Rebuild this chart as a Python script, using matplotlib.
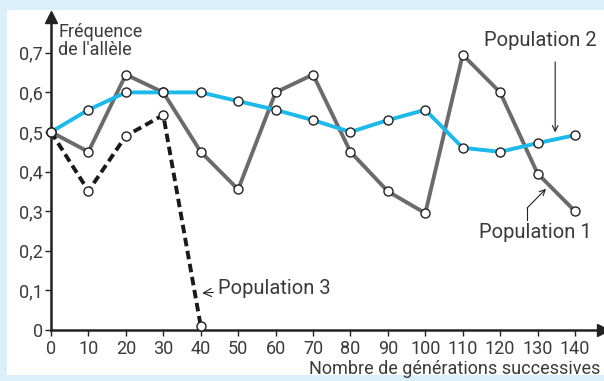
import matplotlib.pyplot as plt
from matplotlib.patches import Rectangle

plt.rcParams['font.family'] = ['Roboto', 'DejaVu Sans']

# data
gen = [0, 10, 20, 30, 40, 50, 60, 70, 80, 90, 100, 110, 120, 130, 140]
pop1 = [0.50, 0.45, 0.645, 0.60, 0.45, 0.355, 0.60, 0.645, 0.45, 0.35, 0.295, 0.695, 0.60, 0.395, 0.30]
pop2 = [0.50, 0.556, 0.60, 0.60, 0.60, 0.578, 0.556, 0.53, 0.50, 0.53, 0.556, 0.46, 0.45, 0.472, 0.492]
gen3 = [0, 10, 20, 30, 40]
pop3 = [0.50, 0.351, 0.49, 0.543, 0.01]
yticks = [0, 0.1, 0.2, 0.3, 0.4, 0.5, 0.6, 0.7]
ylabels = ['0', '0,1', '0,2', '0,3', '0,4', '0,5', '0,6', '0,7']

W, H = 604, 381
fig = plt.figure(figsize=(W / 100, H / 100), dpi=100)
fig.patch.set_facecolor('#dbeffa')
fig.add_artist(Rectangle((7 / W, 6 / H), (W - 7) / W, (375 - 10) / H,
                         transform=fig.transFigure, facecolor='white', edgecolor='none', zorder=0))

ax = fig.add_axes([51 / W, (H - 330) / H, (603 - 51) / W, (330 - 17) / H])
ax.set_facecolor('none')
ax.set_xlim(0, (603 - 51) / 3.743)
ax.set_ylim(0, (330 - 17) / 396)

txt = '#3a3a3a'
mk = dict(marker='o', markersize=6.5, markerfacecolor='white', markeredgecolor='#222222',
          markeredgewidth=1.0, clip_on=False)
ax.plot(gen, pop1, color='#6b6b6b', lw=2.8, zorder=3, **mk)
ax.plot(gen, pop2, color='#1cb9ea', lw=2.8, zorder=4, **mk)
ax.plot(gen3, pop3, color='#1a1a1a', lw=2.8, ls=(0, (2.2, 1.2)), zorder=5, **mk)

for s in ['top', 'right']:
    ax.spines[s].set_visible(False)
for s in ['left', 'bottom']:
    ax.spines[s].set_linewidth(1.8)
    ax.spines[s].set_color('#222222')
ax.plot(1, 0, '>', color='#222222', markersize=8, transform=ax.transAxes, clip_on=False)
ax.plot(0, 1, '^', color='#222222', markersize=8, transform=ax.transAxes, clip_on=False)

ax.set_xticks(gen)
ax.set_xticklabels([str(g) for g in gen])
ax.set_yticks(yticks)
ax.set_yticklabels(ylabels)
ax.tick_params(length=4, width=1, color='#222222', labelsize=13, labelcolor=txt, pad=2)
ax.tick_params(axis='x', pad=3)

fig.text(58 / W, 1 - 23 / H, "Fréquence\nde l'allèle", fontsize=13, color=txt,
         va='top', ha='left', linespacing=1.0)
fig.text(600 / W, 1 - 369 / H, 'Nombre de générations successives', fontsize=13,
         color=txt, va='center', ha='right')

arr = dict(arrowstyle='->', color='#222222', lw=0.8)
ax.text(130.6, 0.732, 'Population 2', fontsize=14.5, color=txt, ha='center', va='center')
ax.annotate('', xy=(134.7, 0.492), xytext=(134.7, 0.677), arrowprops=dict(arr, shrinkA=0, shrinkB=2))

ax.text(129.3, 0.247, 'Population 1', fontsize=14.5, color=txt, ha='center', va='center')
ax.plot([127.2, 127.2], [0.278, 0.308], color='#222222', lw=0.8)
ax.annotate('', xy=(132.5, 0.359), xytext=(127.2, 0.308), arrowprops=dict(arr, shrinkA=0, shrinkB=1))

ax.annotate('Population 3', xy=(40, 0.093), xytext=(44.5, 0.105), fontsize=14.5, color=txt,
            ha='left', va='center', arrowprops=dict(arr, shrinkA=1, shrinkB=1))

fig.savefig('out.png', dpi=100)
